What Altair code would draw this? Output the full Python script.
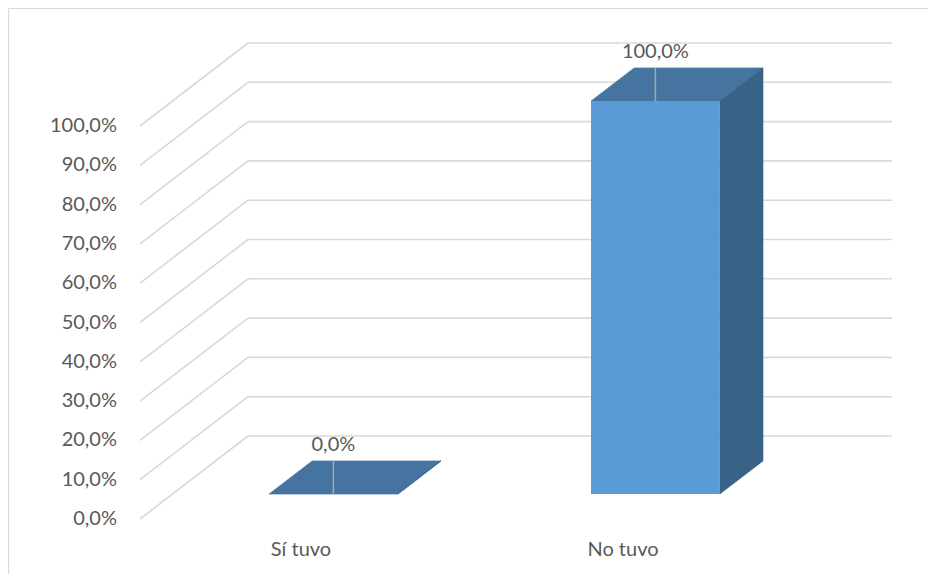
import altair as alt
import pandas as pd

# ---------------- data ----------------
categories = ["Sí tuvo", "No tuvo"]
values = [0.0, 100.0]
value_labels = ["0,0%", "100,0%"]
tick_values = [0, 10, 20, 30, 40, 50, 60, 70, 80, 90, 100]
tick_labels = ["0,0%", "10,0%", "20,0%", "30,0%", "40,0%", "50,0%",
               "60,0%", "70,0%", "80,0%", "90,0%", "100,0%"]

# ---------------- layout (pseudo-3D projection) ----------------
W, H = 920, 566            # plot area = chart frame
PX_CAT = 322.0             # pixels per category slot
PX_PCT = 3.93              # pixels per percent point
X0, Y0 = 132.0, 511.0      # local pixel of the front-left floor corner
DX = 108.0 / PX_CAT        # full depth, in category units
DY = 83.0 / PX_PCT         # full depth, in percent units
BAR_W = 0.4
D0, D1 = 0.3, 0.7          # bar depth span (fraction of full depth)

x_dom = [-X0 / PX_CAT, (W - X0) / PX_CAT]
y_dom = [-(H - Y0) / PX_PCT, Y0 / PX_PCT]
XS = alt.Scale(domain=x_dom, nice=False, zero=False)
YS = alt.Scale(domain=y_dom, nice=False, zero=False)
XA = alt.Axis(orient="top", labels=False, ticks=False, grid=False, title=None,
              domain=True, domainColor="#D9D9D9", domainWidth=1.2)
YA = alt.Axis(orient="left", labels=False, ticks=False, grid=False, title=None,
              domain=True, domainColor="#D9D9D9", domainWidth=1.2)

FRONT, TOP, SIDE = "#5B9BD5", "#44749F", "#386287"
GRID = "#D9D9D9"
TEXT = "#595959"
FONT = "Lato"
N = len(categories)

# grid lines: back wall + left wall
grid_rows = []
for v in tick_values:
    grid_rows.append(dict(x=DX, x2=N + DX, y=v + DY, y2=v + DY))
    grid_rows.append(dict(x=0.0, x2=DX, y=float(v), y2=v + DY))
grid_df = pd.DataFrame(grid_rows)

# bar faces
face_rows, front_rows, lead_rows, lab_rows, cat_rows = [], [], [], [], []
for i, (c, v, lab) in enumerate(zip(categories, values, value_labels)):
    a = i + 0.5 - BAR_W / 2 + D0 * DX
    b = a + BAR_W
    dxb = (D1 - D0) * DX
    yf0, yb0 = D0 * DY, D1 * DY
    yf, yb = v + D0 * DY, v + D1 * DY
    fid = f"top{i}"
    face_rows += [
        dict(f=fid, col=TOP, x=a, y=yf, y2=yf),
        dict(f=fid, col=TOP, x=a + dxb, y=yf, y2=yb),
        dict(f=fid, col=TOP, x=b, y=yf, y2=yb),
        dict(f=fid, col=TOP, x=b + dxb, y=yb, y2=yb),
    ]
    sid = f"side{i}"
    face_rows += [
        dict(f=sid, col=SIDE, x=b, y=yf0, y2=yf),
        dict(f=sid, col=SIDE, x=b + dxb, y=yb0, y2=yb),
    ]
    front_rows.append(dict(x=a, x2=b, y=yf0, y2=yf))
    cx = (a + b) / 2
    lead_rows.append(dict(x=cx, y=yf, y2=yb))
    lab_rows.append(dict(x=cx, y=yb, t=lab))
    cat_rows.append(dict(x=i + 0.5, y=0.0, t=c))

face_df = pd.DataFrame(face_rows)
front_df = pd.DataFrame(front_rows)
lead_df = pd.DataFrame(lead_rows)
lab_df = pd.DataFrame(lab_rows)
cat_df = pd.DataFrame(cat_rows)
tick_df = pd.DataFrame(dict(x=[0.0] * len(tick_values), y=tick_values, t=tick_labels))

grid = alt.Chart(grid_df).mark_rule(color=GRID, strokeWidth=1.6).encode(
    x=alt.X("x:Q", scale=XS, axis=XA), x2="x2:Q",
    y=alt.Y("y:Q", scale=YS, axis=YA), y2="y2:Q")

faces = alt.Chart(face_df).mark_area(interpolate="linear", strokeWidth=0.6).encode(
    x=alt.X("x:Q", scale=XS, axis=XA),
    y=alt.Y("y:Q", scale=YS, axis=YA), y2="y2:Q",
    detail="f:N",
    color=alt.Color("col:N", scale=None),
    stroke=alt.Color("col:N", scale=None))

front = alt.Chart(front_df).mark_rect(color=FRONT).encode(
    x=alt.X("x:Q", scale=XS, axis=XA), x2="x2:Q",
    y=alt.Y("y:Q", scale=YS, axis=YA), y2="y2:Q")

lead = alt.Chart(lead_df).mark_rule(color="#A6A6A6", strokeWidth=1.5).encode(
    x=alt.X("x:Q", scale=XS, axis=XA),
    y=alt.Y("y:Q", scale=YS, axis=YA), y2="y2:Q")

labels = alt.Chart(lab_df).mark_text(font=FONT, fontSize=20, color=TEXT,
                                     baseline="alphabetic", dy=-10).encode(
    x=alt.X("x:Q", scale=XS, axis=XA),
    y=alt.Y("y:Q", scale=YS, axis=YA), text="t:N")

cats = alt.Chart(cat_df).mark_text(font=FONT, fontSize=20, color=TEXT,
                                   baseline="middle", dy=31).encode(
    x=alt.X("x:Q", scale=XS, axis=XA),
    y=alt.Y("y:Q", scale=YS, axis=YA), text="t:N")

ticks = alt.Chart(tick_df).mark_text(font=FONT, fontSize=20, color=TEXT,
                                     align="right", baseline="middle", dx=-23).encode(
    x=alt.X("x:Q", scale=XS, axis=XA),
    y=alt.Y("y:Q", scale=YS, axis=YA), text="t:N")

chart = alt.layer(grid, faces, front, lead, labels, cats, ticks).properties(
    width=W, height=H, autosize=alt.AutoSizeParams(type="none"),
    padding=0, background="white"
).configure_view(stroke=None)

chart.save("out.html", embed_options={"renderer": "svg", "actions": False})
